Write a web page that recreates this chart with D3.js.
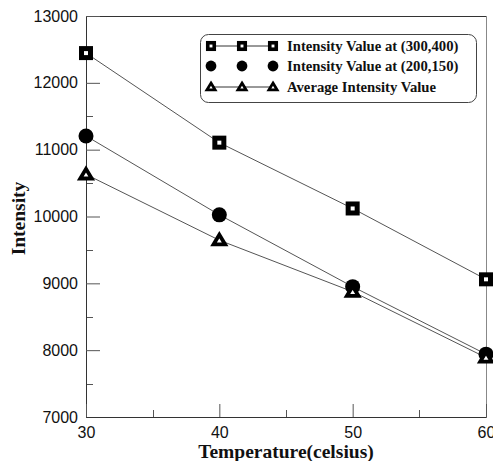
<!DOCTYPE html>
<html lang="en">
<head>
  <meta charset="UTF-8" />
  <title>Intensity vs Temperature</title>
  <script src="https://d3js.org/d3.v7.min.js"></script>
  <style>
    body { margin: 0; background: #fff; }
    svg { display: block; }
    .tick text { font-family: "Liberation Sans", Arial, sans-serif; font-size: 16px; fill: #111; }
    .axis-title { font-family: "Liberation Serif", "Times New Roman", serif; font-weight: bold; font-size: 19.5px; fill: #111; }
    .legend text { font-family: "Liberation Serif", "Times New Roman", serif; font-weight: bold; font-size: 14.7px; fill: #111; }
  </style>
</head>
<body>
  <svg width="493" height="461"></svg>
  <script>
    // data
    const temps = [30, 40, 50, 60];
    const at300_400 = [12445, 11105, 10120, 9060];
    const at200_150 = [11205, 10025, 8950, 7940];
    const avgValue  = [10630, 9645, 8875, 7890];
    const seriesNames = [
      "Intensity Value at (300,400)",
      "Intensity Value at (200,150)",
      "Average Intensity Value"
    ];
    const xTicks = [30, 40, 50, 60];
    const yTicks = [7000, 8000, 9000, 10000, 11000, 12000, 13000];

    const svg = d3.select("svg");
    const plotL = 86, plotR = 486, plotT = 16, plotB = 417;

    const x = d3.scaleLinear().domain([30, 60]).range([plotL, plotR]);
    const y = d3.scaleLinear().domain([7000, 13000]).range([plotB, plotT]);

    // frame (top + right)
    svg.append("line").attr("x1", plotL).attr("x2", plotR).attr("y1", plotT + 0.5).attr("y2", plotT + 0.5)
      .attr("stroke", "#333");
    svg.append("line").attr("x1", plotR + 0.5).attr("x2", plotR + 0.5).attr("y1", plotT).attr("y2", plotB)
      .attr("stroke", "#888");

    // minor ticks
    const minorY = d3.range(7500, 13000, 1000);
    svg.append("g").selectAll("line").data(minorY).join("line")
      .attr("x1", plotL).attr("x2", plotL + 7)
      .attr("y1", d => Math.round(y(d)) + 0.5).attr("y2", d => Math.round(y(d)) + 0.5)
      .attr("stroke", "#555");
    const minorX = [35, 45, 55];
    svg.append("g").selectAll("line").data(minorX).join("line")
      .attr("x1", d => Math.round(x(d)) + 0.5).attr("x2", d => Math.round(x(d)) + 0.5)
      .attr("y1", plotB).attr("y2", plotB - 7)
      .attr("stroke", "#555");

    // axes
    const yAxis = svg.append("g")
      .attr("transform", `translate(${plotL},0)`)
      .call(d3.axisLeft(y).tickValues(yTicks).tickFormat(d3.format("d")).tickSize(-14).tickPadding(8));
    const xAxis = svg.append("g")
      .attr("transform", `translate(0,${plotB})`)
      .call(d3.axisBottom(x).tickValues(xTicks).tickFormat(d3.format("d")).tickSize(-13).tickPadding(10));
    [yAxis, xAxis].forEach(g => {
      g.select(".domain").attr("stroke", "#333");
      g.selectAll(".tick line").attr("stroke", "#555");
    });

    svg.append("text").attr("class", "axis-title")
      .attr("x", (plotL + plotR) / 2).attr("y", 458)
      .attr("text-anchor", "middle").text("Temperature(celsius)");
    svg.append("text").attr("class", "axis-title")
      .attr("transform", `translate(25,${(plotT + plotB) / 2 + 2}) rotate(-90)`)
      .attr("text-anchor", "middle").text("Intensity");

    // markers
    function marker(g, kind, cx, cy, s) {
      if (kind === 0) {
        const w = 9 * s;
        g.append("rect").attr("x", cx - w / 2).attr("y", cy - w / 2).attr("width", w).attr("height", w)
          .attr("fill", "#fff").attr("stroke", "#000").attr("stroke-width", 5 * s);
      } else if (kind === 1) {
        g.append("circle").attr("cx", cx).attr("cy", cy).attr("r", 7.5 * s).attr("fill", "#000");
      } else {
        const h = 5.5 * s;
        g.append("path")
          .attr("d", `M${cx},${cy - h} L${cx + h * 1.05},${cy + h * 0.75} L${cx - h * 1.05},${cy + h * 0.75} Z`)
          .attr("fill", "#fff").attr("stroke", "#000").attr("stroke-width", 3.8 * s)
          .attr("stroke-linejoin", "miter");
      }
    }

    const allSeries = [at300_400, at200_150, avgValue];
    const line = d3.line().x((d, i) => x(temps[i])).y(d => y(d));
    const plot = svg.append("g");
    allSeries.forEach(vals => {
      plot.append("path").datum(vals).attr("d", line)
        .attr("fill", "none").attr("stroke", "#555").attr("stroke-width", 1);
    });
    allSeries.forEach((vals, k) => {
      vals.forEach((v, i) => marker(plot, k, x(temps[i]), y(v), 1));
    });

    // legend
    const lg = svg.append("g").attr("class", "legend");
    lg.append("rect").attr("x", 200.5).attr("y", 34.5).attr("width", 276).attr("height", 68)
      .attr("rx", 8).attr("fill", "#fff").attr("stroke", "#444");
    const rowY = [46, 66, 87];
    const mx = [211, 242, 273];
    seriesNames.forEach((name, k) => {
      if (k !== 1) {
        lg.append("line").attr("x1", mx[0]).attr("x2", mx[2]).attr("y1", rowY[k]).attr("y2", rowY[k])
          .attr("stroke", "#333");
      }
      mx.forEach(m => marker(lg, k, m, rowY[k], 0.72));
      lg.append("text").attr("x", 287).attr("y", rowY[k]).attr("dy", "0.35em").text(name);
    });
  </script>
</body>
</html>
